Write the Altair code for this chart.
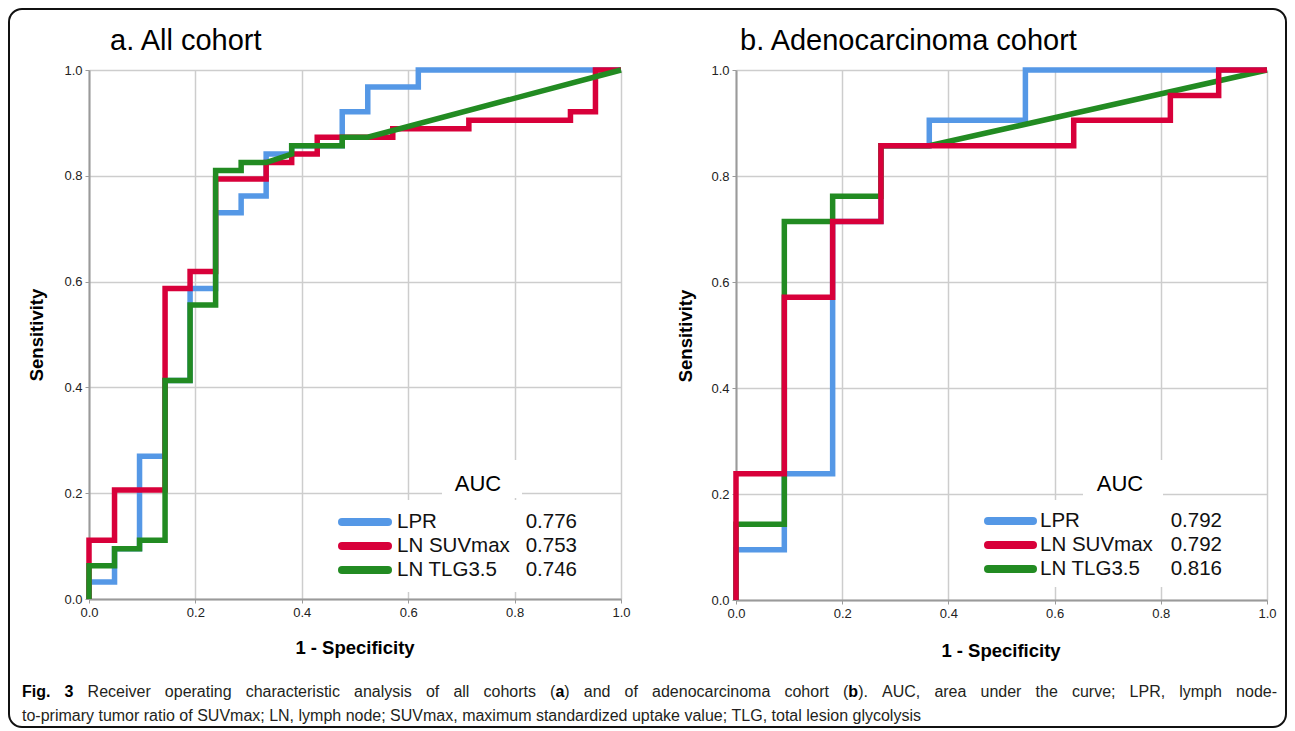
import altair as alt
import pandas as pd

FONT = "Liberation Sans, Arial, Helvetica, sans-serif"
CAP_FONT = "Liberation Sans, Arial, sans-serif"

SERIES = ["LPR", "LN SUVmax", "LN TLG3.5"]
COLORS = ["#5598E6", "#D8003A", "#228B22"]
TICKS = [0.0, 0.2, 0.4, 0.6, 0.8, 1.0]

# ---------- a. All cohort (ROC vertices: 1 - specificity, sensitivity) ----------
A_LPR_FPR = [0.0, 0.0, 0.048, 0.048, 0.095, 0.095, 0.143, 0.143, 0.190, 0.190, 0.238, 0.238, 0.286,
             0.286, 0.333, 0.333, 0.381, 0.381, 0.476, 0.476, 0.524, 0.524, 0.619, 0.619, 1.0]
A_LPR_TPR = [0.0, 0.032, 0.032, 0.095, 0.095, 0.270, 0.270, 0.413, 0.413, 0.587, 0.587, 0.730, 0.730,
             0.762, 0.762, 0.841, 0.841, 0.857, 0.857, 0.921, 0.921, 0.968, 0.968, 1.0, 1.0]
A_SUV_FPR = [0.0, 0.0, 0.048, 0.048, 0.143, 0.143, 0.190, 0.190, 0.238, 0.238, 0.333, 0.333, 0.381,
             0.381, 0.429, 0.429, 0.571, 0.571, 0.714, 0.714, 0.905, 0.905, 0.952, 0.952, 1.0]
A_SUV_TPR = [0.0, 0.111, 0.111, 0.206, 0.206, 0.587, 0.587, 0.619, 0.619, 0.794, 0.794, 0.825, 0.825,
             0.841, 0.841, 0.873, 0.873, 0.889, 0.889, 0.905, 0.905, 0.921, 0.921, 1.0, 1.0]
A_TLG_FPR = [0.0, 0.0, 0.048, 0.048, 0.095, 0.095, 0.143, 0.143, 0.190, 0.190, 0.238, 0.238, 0.286,
             0.286, 0.333, 0.381, 0.381, 0.476, 0.476, 0.524, 1.0]
A_TLG_TPR = [0.0, 0.063, 0.063, 0.095, 0.095, 0.111, 0.111, 0.413, 0.413, 0.556, 0.556, 0.810, 0.810,
             0.825, 0.825, 0.841, 0.857, 0.857, 0.873, 0.873, 1.0]
A_AUC = ["0.776", "0.753", "0.746"]

# ---------- b. Adenocarcinoma cohort ----------
B_LPR_FPR = [0.0, 0.0, 0.091, 0.091, 0.182, 0.182, 0.273, 0.273, 0.364, 0.364, 0.545, 0.545, 1.0]
B_LPR_TPR = [0.0, 0.095, 0.095, 0.238, 0.238, 0.714, 0.714, 0.857, 0.857, 0.905, 0.905, 1.0, 1.0]
B_SUV_FPR = [0.0, 0.0, 0.091, 0.091, 0.182, 0.182, 0.273, 0.273, 0.636, 0.636, 0.818, 0.818, 0.909, 0.909, 1.0]
B_SUV_TPR = [0.0, 0.238, 0.238, 0.571, 0.571, 0.714, 0.714, 0.857, 0.857, 0.905, 0.905, 0.952, 0.952, 1.0, 1.0]
B_TLG_FPR = [0.0, 0.0, 0.091, 0.091, 0.182, 0.182, 0.273, 0.273, 0.364, 1.0]
B_TLG_TPR = [0.0, 0.143, 0.143, 0.714, 0.714, 0.762, 0.762, 0.857, 0.857, 1.0]
B_AUC = ["0.792", "0.792", "0.816"]

TITLE_A = "a. All cohort"
TITLE_B = "b. Adenocarcinoma cohort"
X_TITLE = "1 - Specificity"
Y_TITLE = "Sensitivity"
LEGEND_TITLE = "AUC"

CAPTION_1 = ("**Fig. 3** Receiver operating characteristic analysis of all cohorts (**a**) and of "
             "adenocarcinoma cohort (**b**). AUC, area under the curve; LPR, lymph node-")
CAPTION_2 = ("to-primary tumor ratio of SUVmax; LN, lymph node; SUVmax, maximum standardized "
             "uptake value; TLG, total lesion glycolysis")

# ---------- helpers ----------
def text_layer(txt, x, y, size, weight="normal", align="left", baseline="alphabetic",
               angle=0, font=FONT, color="#000000"):
    kw = dict(font=font, fontSize=size, fontWeight=weight, align=align,
              baseline=baseline, color=color)
    if angle:
        kw["angle"] = angle
    return alt.Chart(pd.DataFrame({"t": [txt]})).mark_text(**kw).encode(
        x=alt.value(x), y=alt.value(y), text="t:N")


def rect_layer(x1, y1, x2, y2, **kw):
    return alt.Chart(pd.DataFrame({"k": [0]})).mark_rect(**kw).encode(
        x=alt.value(x1), x2=alt.value(x2), y=alt.value(y1), y2=alt.value(y2))


def make_axis(orient):
    return alt.Axis(values=TICKS, format=".1f", title=None, grid=True, gridColor="#cdcdcd",
                    gridWidth=1.5, domainColor="#9a9a9a", domainWidth=2, tickColor="#9a9a9a",
                    tickSize=4, tickWidth=1, labelFont=FONT, labelFontSize=13, labelColor="#222222",
                    labelPadding=3, labelFlush=False, orient=orient)


def panel(curves, order, auc, title, w, h, lay, extra=None):
    xs = alt.Scale(domain=[0, 1], nice=False, zero=False)
    ys = alt.Scale(domain=[0, 1], nice=False, zero=False)
    layers = []
    for k in order:
        fpr, tpr = curves[k]
        df = pd.DataFrame({"fpr": fpr, "tpr": tpr, "step": list(range(len(fpr)))})
        layers.append(
            alt.Chart(df).mark_line(color=COLORS[k], strokeWidth=5.5, strokeJoin="miter",
                                    strokeCap="butt").encode(
                x=alt.X("fpr:Q", scale=xs, axis=make_axis("bottom")),
                y=alt.Y("tpr:Q", scale=ys, axis=make_axis("left")),
                order=alt.Order("step:Q"),
            )
        )
    # legend boxes
    bx1, by1, bx2, by2 = lay["body"]
    layers.append(rect_layer(bx1, by1, bx2, by2, color="white"))
    tx1, ty1, tx2, ty2 = lay["tbox"]
    layers.append(rect_layer(tx1, ty1, tx2, ty2, color="white"))
    layers.append(text_layer(LEGEND_TITLE, lay["auc_x"], lay["auc_y"], 22, align="center"))
    lx1, lx2 = lay["line"]
    for i, name in enumerate(SERIES):
        ry = lay["rows"][i]
        layers.append(
            alt.Chart(pd.DataFrame({"s": [name]})).mark_rule(
                color=COLORS[i], strokeWidth=8, strokeCap="round").encode(
                x=alt.value(lx1), x2=alt.value(lx2), y=alt.value(ry))
        )
        layers.append(text_layer(name, lay["name_x"], ry, 20.5, baseline="middle", color="#111111"))
        layers.append(text_layer(auc[i], lay["val_x"], ry, 20.5, align="right", baseline="middle",
                                 color="#111111"))
    # titles
    layers.append(text_layer(title, lay["title_x"], lay["title_y"], 29))
    yx, yy = lay["ytitle"]
    layers.append(text_layer(Y_TITLE, yx, yy, 18.5, weight="bold", align="center",
                             baseline="middle", angle=270))
    xx, xy = lay["xtitle"]
    layers.append(text_layer(X_TITLE, xx, xy, 18.5, weight="bold", align="center",
                             baseline="middle"))
    if extra:
        layers.extend(extra)
    return alt.layer(*layers).properties(width=w, height=h)


# ---------- caption typesetting (Arial metrics, first line justified) ----------
REG_W = {' ': 278, '(': 333, ')': 333, ',': 278, '-': 333, '.': 278, ';': 278, ':': 278,
         'A': 667, 'B': 667, 'C': 722, 'D': 722, 'E': 667, 'F': 611, 'G': 778, 'H': 722, 'I': 278,
         'J': 500, 'K': 667, 'L': 556, 'M': 833, 'N': 722, 'O': 778, 'P': 667, 'Q': 778, 'R': 722,
         'S': 667, 'T': 611, 'U': 722, 'V': 667, 'W': 944, 'X': 667, 'Y': 667, 'Z': 611,
         'a': 556, 'b': 556, 'c': 500, 'd': 556, 'e': 556, 'f': 278, 'g': 556, 'h': 556, 'i': 222,
         'j': 222, 'k': 500, 'l': 222, 'm': 833, 'n': 556, 'o': 556, 'p': 556, 'q': 556, 'r': 333,
         's': 500, 't': 278, 'u': 556, 'v': 500, 'w': 722, 'x': 500, 'y': 500, 'z': 500}
BOLD_W = {' ': 278, 'F': 611, 'i': 278, 'g': 611, '.': 278, '3': 556, 'a': 556, 'b': 611}
CAP_SIZE = 16


def parse(markup):
    chars = []
    for j, part in enumerate(markup.split("**")):
        for ch in part:
            chars.append((ch, j % 2 == 1))
    words, cur = [], []
    for ch, b in chars:
        if ch == " ":
            if cur:
                words.append(cur)
                cur = []
        else:
            cur.append((ch, b))
    if cur:
        words.append(cur)
    return words


def em(ch, b):
    return (BOLD_W if b else REG_W).get(ch, 556) / 1000.0


def caption_rows(markup, justify_to=None):
    words = parse(markup)
    wpx = lambda c, b: em(c, b) * CAP_SIZE
    widths = [sum(wpx(c, b) for c, b in wd) for wd in words]
    gap = wpx(" ", False)
    if justify_to:
        gap = max(gap, (justify_to - sum(widths)) / (len(words) - 1))
    rows, x = [], 0.0
    for wd, ww in zip(words, widths):
        segs = []
        for c, b in wd:
            if segs and segs[-1][1] == b:
                segs[-1][0] += c
            else:
                segs.append([c, b])
        sx = x
        for t, b in segs:
            rows.append((t, b, sx))
            sx += sum(wpx(c, b) for c in t)
        x += ww + gap
    return rows


CAP_X0 = -67
extra_a = [rect_layer(-80, -61, 1197, 657, filled=False, stroke="#111111", strokeWidth=2,
                      cornerRadius=13)]
for t, b, sx in caption_rows(CAPTION_1, justify_to=1255):
    extra_a.append(text_layer(t, CAP_X0 + sx, 627, CAP_SIZE, weight="bold" if b else "normal",
                              font=CAP_FONT, color="#000000" if b else "#231f20"))
for t, b, sx in caption_rows(CAPTION_2):
    extra_a.append(text_layer(t, CAP_X0 + sx, 651, CAP_SIZE, weight="bold" if b else "normal",
                              font=CAP_FONT, color="#231f20"))

LAY_A = dict(body=(249, 430, 530, 522), tbox=(353, 390, 433, 428), auc_x=389, auc_y=421,
             line=(253, 299), name_x=308, val_x=488, rows=[452, 476, 500],
             title_x=21, title_y=-20, ytitle=(-52, 265), xtitle=(266, 578))
LAY_B = dict(body=(249, 430, 529, 517), tbox=(347, 390, 427, 430), auc_x=384, auc_y=421,
             line=(252, 297), name_x=304, val_x=486, rows=[451, 475, 499],
             title_x=4, title_y=-20, ytitle=(-50, 266), xtitle=(265, 581))

panel_a = panel([(A_LPR_FPR, A_LPR_TPR), (A_SUV_FPR, A_SUV_TPR), (A_TLG_FPR, A_TLG_TPR)],
                [0, 1, 2], A_AUC, TITLE_A, 532, 529, LAY_A, extra_a)
panel_b = panel([(B_LPR_FPR, B_LPR_TPR), (B_SUV_FPR, B_SUV_TPR), (B_TLG_FPR, B_TLG_TPR)],
                [0, 2, 1], B_AUC, TITLE_B, 531, 530, LAY_B)

chart = alt.hconcat(panel_a, panel_b, spacing=115, bounds="flush").properties(
    padding=0, background="white").configure_view(strokeWidth=0)

chart.save("out.html", embed_options={"renderer": "svg", "actions": False})
